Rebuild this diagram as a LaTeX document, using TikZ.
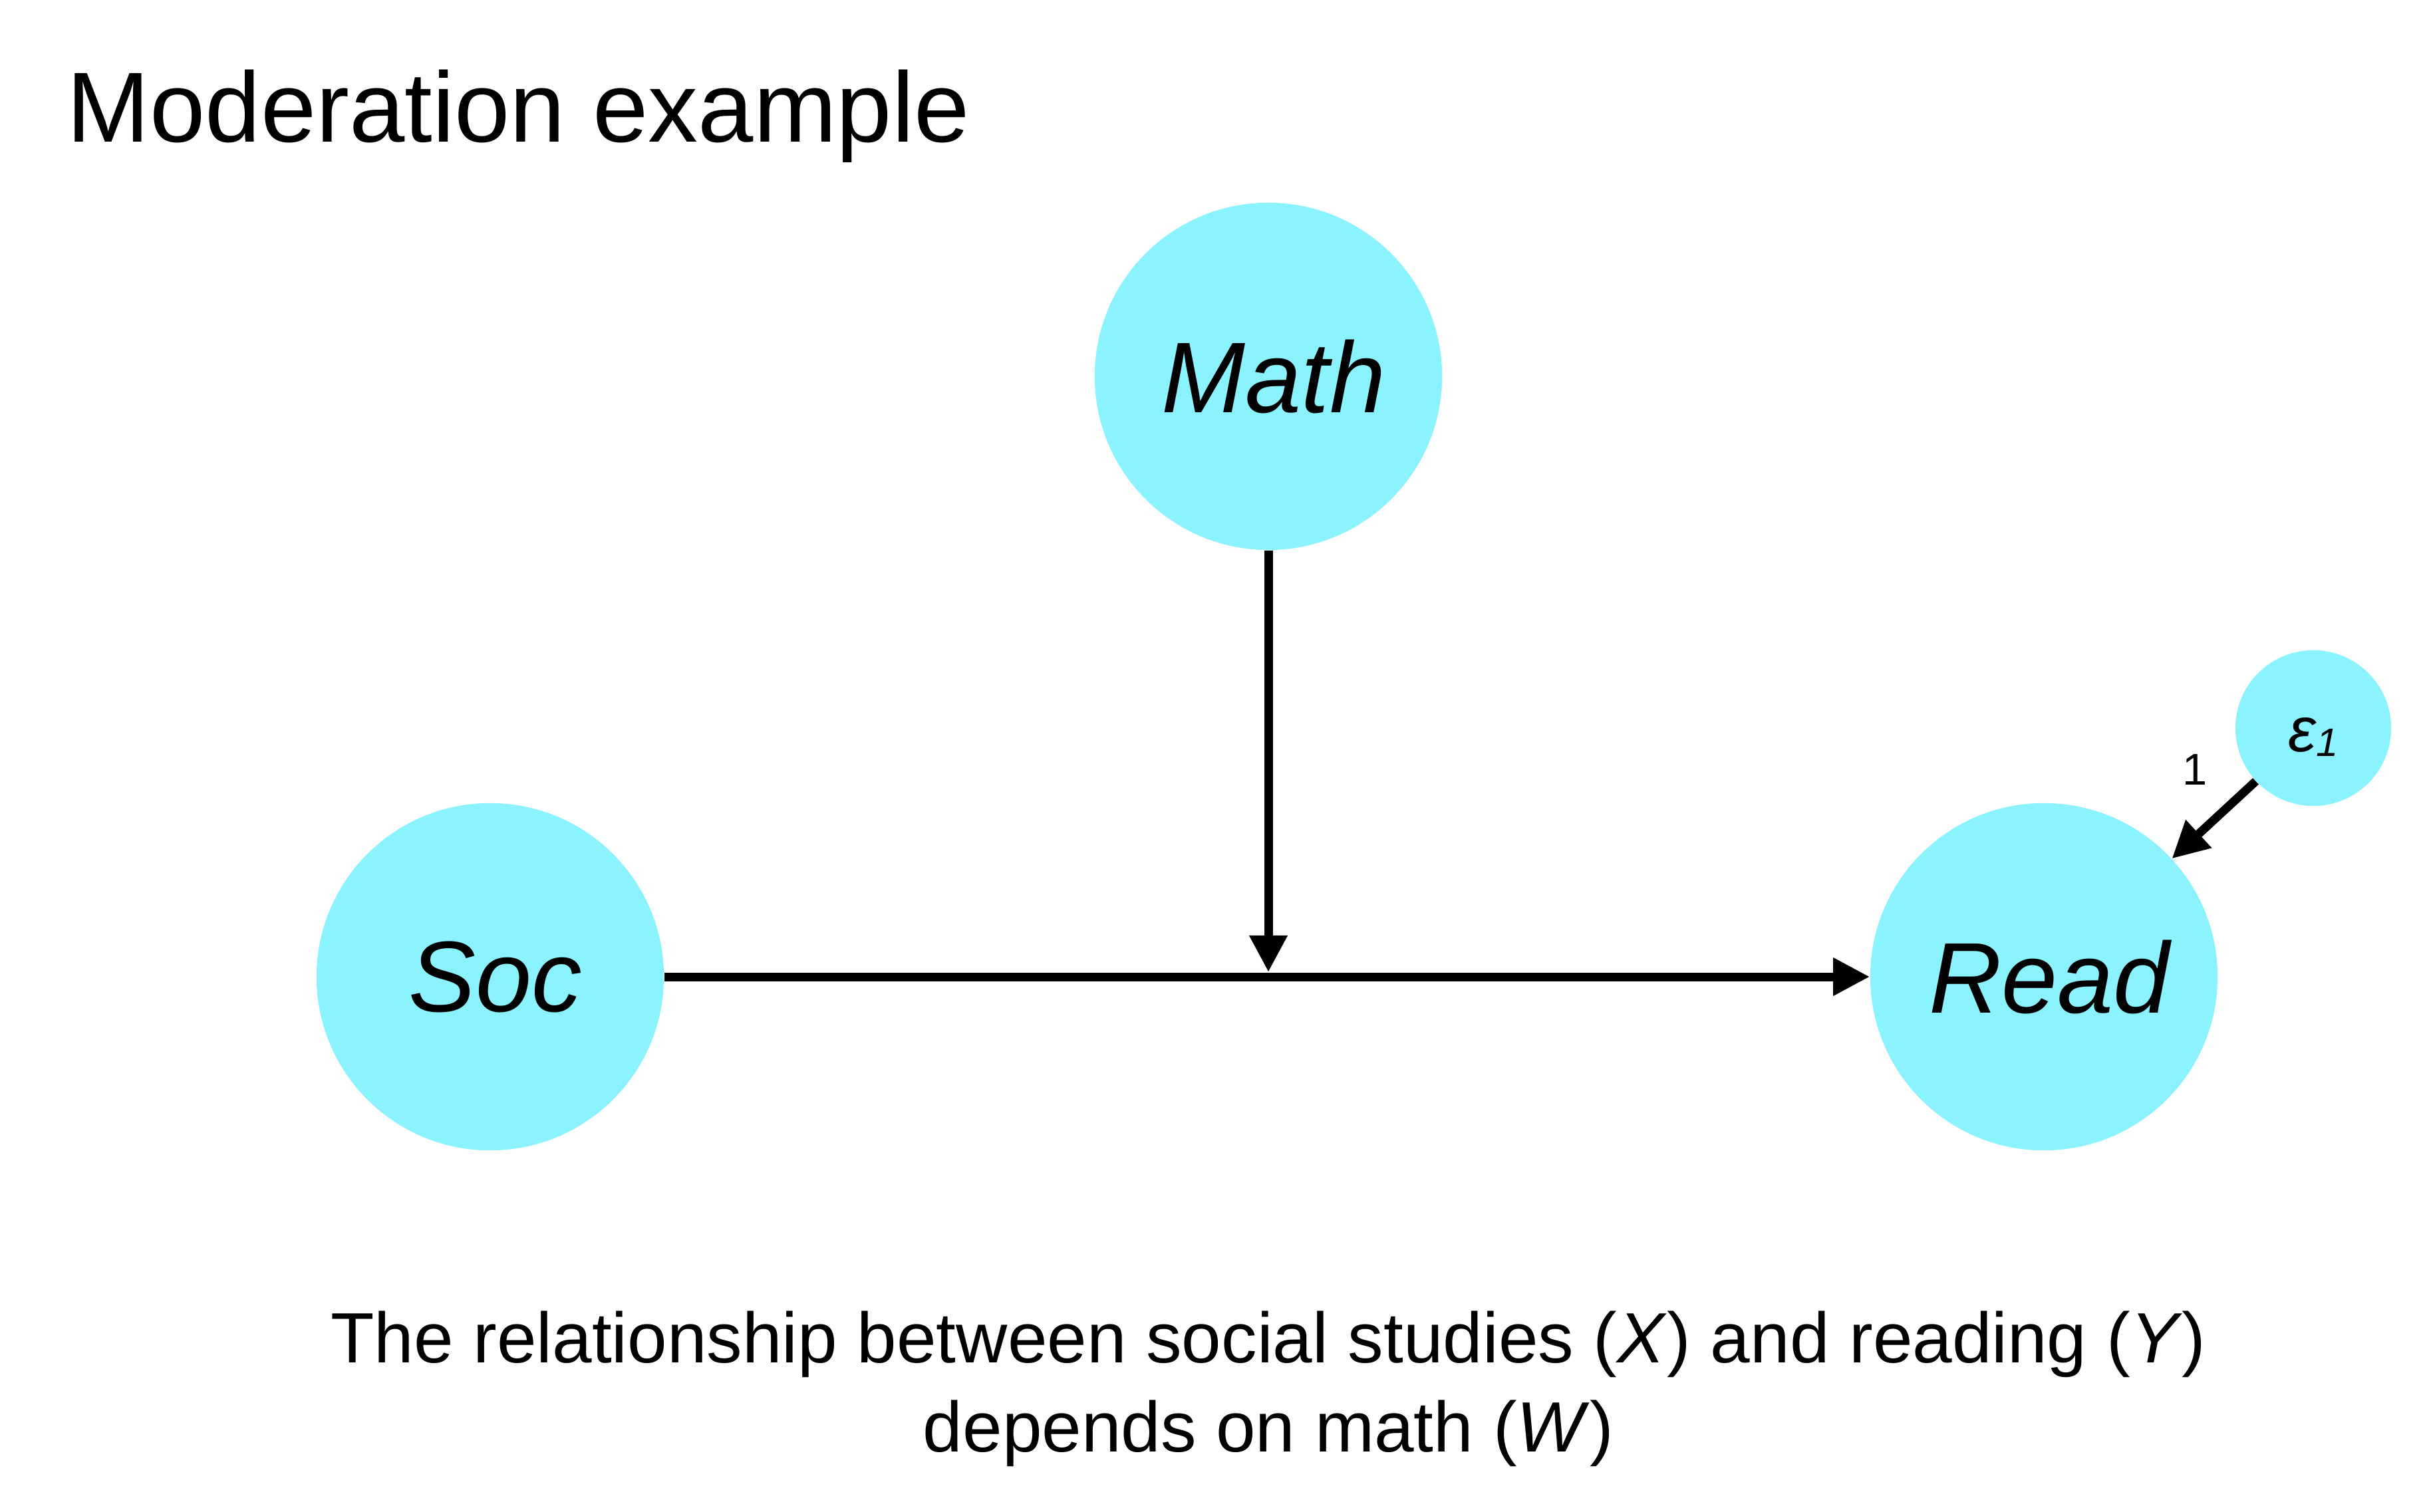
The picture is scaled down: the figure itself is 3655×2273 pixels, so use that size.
\documentclass[tikz,border=0pt]{standalone}
\usepackage{fontspec}
\setmainfont{Liberation Sans}
\usetikzlibrary{arrows.meta}
\definecolor{varfill}{RGB}{138,243,255}
\begin{document}
\begin{tikzpicture}[x=0.01cm,y=-0.01cm]
  \tikzstyle{var}=[circle,fill=varfill,inner sep=0,minimum size=5.22cm,font=\fontsize{43pt}{50pt}\selectfont\itshape];
  \tikzstyle{err}=[circle,fill=varfill,inner sep=0,minimum size=2.34cm,font=\fontsize{27pt}{30pt}\selectfont\itshape];
  \tikzstyle{link}=[line width=0.13cm,-{Triangle[length=0.55cm,width=0.54cm]}];

  \useasboundingbox (0,0) rectangle (3655,2273);

  % title
  \node[anchor=base west,inner sep=0,font=\fontsize{42.6pt}{50pt}\selectfont] (title) at (100,214) {Moderation example};

  % variables
  \node[var] (math) at (1907,566) {\hspace{0.16cm}Math};
  \node[var] (soc) at (737,1469) {\hspace{0.16cm}Soc};
  \node[var] (read) at (3073,1469) {\hspace{0.16cm}Read};
  \node[err] (e1) at (3478,1095) {\raisebox{-0.35cm}[0pt][0pt]{ε\raisebox{-0.07cm}{\fontsize{17pt}{17pt}\selectfont 1}}};

  % paths
  \coordinate (meet) at (1907,1462);
  \draw[link] (soc) -- (read);
  \draw[link] (math) -- (meet);
  \draw[link] (e1) -- (read);
  \node[font=\fontsize{19pt}{19pt}\selectfont] (one) at (3300,1158) {1};

  % caption
  \node[align=center,font=\fontsize{30.45pt}{38.1pt}\selectfont] (caption) at (1907,2089)
    {The relationship between social studies (\textit{X}) and reading (\textit{Y})\\depends on math (\textit{W})};

\end{tikzpicture}
\end{document}
